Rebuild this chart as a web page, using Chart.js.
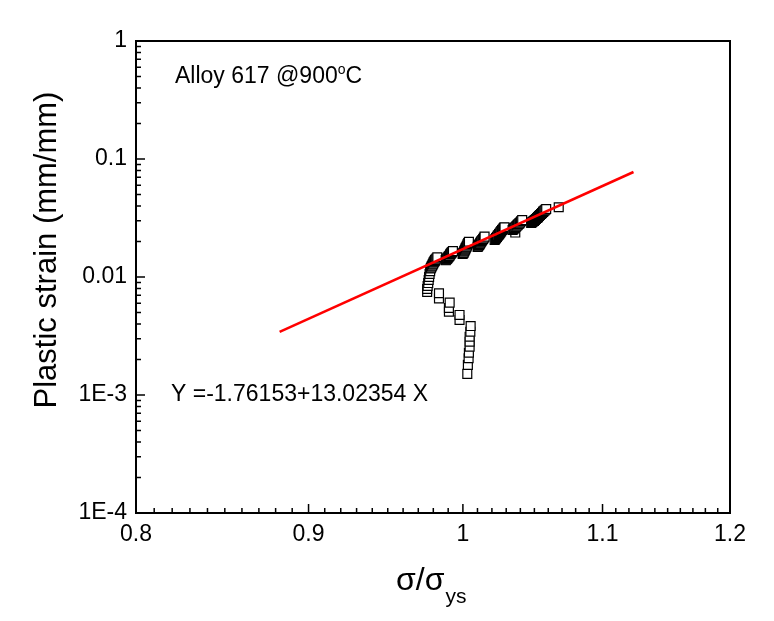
<!DOCTYPE html>
<html><head><meta charset="utf-8">
<script src="https://cdn.jsdelivr.net/npm/chart.js@4/dist/chart.umd.min.js"></script>
<style>html,body{margin:0;padding:0;background:#fff}#wrap{width:774px;height:621px;position:relative}</style>
</head><body><div id="wrap"><canvas id="c" width="774" height="621"></canvas></div>
<script>
const xTickValues=[0.8,0.9,1,1.1,1.2];
const xTickLabels=['0.8','0.9','1','1.1','1.2'];
const yTickValues=[1e-4,1e-3,0.01,0.1,1];
const yTickLabels=['1E-4','1E-3','0.01','0.1','1'];

// measured points: sigma/sigma_ys and plastic strain
const stressRatio=[
 1.0030,1.0034,1.0039,1.0041,1.0046,1.0046,1.0046,1.0051,1.0053,0.9977,0.9977,0.9905,0.9905,0.9910,0.9838,0.9838,
 0.9759,0.9759,0.9762,0.9766,0.9769,0.9772,0.9775,0.9779,0.9782,0.9785,0.9789,0.9792,0.9796,0.9799,0.9802,0.9806,0.9809,0.9812,0.9816,0.9822,0.9827,
 0.9883,0.9886,0.9890,0.9893,0.9896,0.9900,0.9903,0.9906,0.9910,0.9913,0.9916,0.9920,0.9923,0.9927,0.9932,
 0.9998,1.0001,1.0005,1.0008,1.0012,1.0015,1.0018,1.0021,1.0025,1.0028,1.0032,1.0036,1.0041,
 1.0101,1.0104,1.0108,1.0111,1.0115,1.0118,1.0121,1.0125,1.0128,1.0133,1.0139,1.0144,1.0149,
 1.0219,1.0224,1.0229,1.0235,1.0240,1.0245,1.0250,1.0255,1.0260,1.0265,1.0271,1.0276,1.0281,1.0285,1.0288,
 1.0364,1.0345,1.0350,1.0355,1.0360,1.0366,1.0371,1.0377,1.0382,1.0387,1.0392,1.0398,1.0405,1.0413,
 1.0477,1.0483,1.0490,1.0497,1.0504,1.0511,1.0519,1.0526,1.0533,1.0540,1.0548,1.0555,1.0562,1.0567,1.0573,1.0579,1.0585,
 1.0676];
const plasticStrain=[
 0.00151,0.00180,0.00205,0.00228,0.00257,0.00283,0.00312,0.00344,0.00384,0.00432,0.00477,0.00508,0.00546,0.00606,0.00659,0.00728,
 0.00746,0.00792,0.00839,0.00889,0.00944,0.0100,0.0106,0.0112,0.0118,0.0120,0.0123,0.0125,0.0128,0.0130,0.0133,0.0135,0.0137,0.0139,0.0141,0.0144,0.0147,
 0.0139,0.0140,0.0142,0.0143,0.0145,0.0147,0.0149,0.0150,0.0152,0.0155,0.0157,0.0159,0.0161,0.0163,0.0166,
 0.0157,0.0159,0.0161,0.0165,0.0168,0.0171,0.0175,0.0178,0.0181,0.0185,0.0190,0.0194,0.0199,
 0.0180,0.0182,0.0185,0.0187,0.0190,0.0193,0.0196,0.0199,0.0202,0.0206,0.0210,0.0215,0.0220,
 0.0206,0.0210,0.0214,0.0218,0.0223,0.0227,0.0231,0.0235,0.0240,0.0245,0.0250,0.0254,0.0258,0.0261,0.0264,
 0.0238,0.0250,0.0254,0.0258,0.0261,0.0265,0.0269,0.0273,0.0277,0.0281,0.0285,0.0290,0.0297,0.0304,
 0.0287,0.0291,0.0295,0.0299,0.0304,0.0310,0.0316,0.0322,0.0329,0.0335,0.0342,0.0349,0.0356,0.0361,0.0366,0.0371,0.0377,
 0.0390];

// fitted line end points
const fitX=[0.8824,1.1235];
const fitY=[0.00342,0.0776];

const titleText='Alloy 617 @900';
const titleDeg='o';
const titleUnit='C';
const equationText='Y =-1.76153+13.02354 X';
const yTitle='Plastic strain (mm/mm)';
const xTitleMain='\u03C3/\u03C3';
const xTitleSub='ys';

const FONT="'Liberation Sans', Arial, sans-serif";

const decor={id:'decor',afterDraw(ch){
  const ctx=ch.ctx,a=ch.chartArea,x=ch.scales.x,y=ch.scales.y;
  ctx.save();
  ctx.strokeStyle='#000';
  ctx.lineWidth=1.5;
  ctx.beginPath();
  for(let k=80;k<=120;k++){
    const px=x.getPixelForValue(k/100);
    const len=(k%10===0)?9:5;
    ctx.moveTo(px,a.bottom);ctx.lineTo(px,a.bottom-len);
  }
  for(let n=-4;n<=0;n++){
    for(let k=1;k<=9;k++){
      const v=k*Math.pow(10,n);
      if(v>1.0001)break;
      const py=y.getPixelForValue(v);
      const len=(k===1)?9:5;
      ctx.moveTo(a.left,py);ctx.lineTo(a.left+len,py);
    }
  }
  ctx.stroke();
  ctx.lineWidth=2;
  ctx.strokeRect(a.left,a.top,a.right-a.left,a.bottom-a.top);

  ctx.fillStyle='#000';
  ctx.textBaseline='alphabetic';
  ctx.textAlign='left';
  ctx.font='23px '+FONT;
  ctx.fillText(titleText,175,83);
  let w=ctx.measureText(titleText).width;
  ctx.font='14px '+FONT;
  ctx.fillText(titleDeg,175+w,74);
  let w2=ctx.measureText(titleDeg).width;
  ctx.font='23px '+FONT;
  ctx.fillText(titleUnit,175+w+w2,83);

  ctx.fillText(equationText,171,401);

  ctx.save();
  ctx.translate(56,250);
  ctx.rotate(-Math.PI/2);
  ctx.textAlign='center';
  ctx.font='31px '+FONT;
  ctx.fillText(yTitle,0,0);
  ctx.restore();

  ctx.font='32px '+FONT;
  ctx.fillText(xTitleMain,396,590);
  const mw=ctx.measureText(xTitleMain).width;
  ctx.font='21px '+FONT;
  ctx.fillText(xTitleSub,396+mw+1,603);
  ctx.restore();
}};

new Chart(document.getElementById('c'),{
  type:'scatter',
  data:{datasets:[
    {type:'line',label:'fit',data:fitX.map((v,i)=>({x:v,y:fitY[i]})),borderColor:'#ff0000',borderWidth:2.5,pointRadius:0,fill:false,tension:0},
    {label:'data',data:stressRatio.map((v,i)=>({x:v,y:plasticStrain[i]})),pointStyle:'rect',pointRadius:6.3,pointHoverRadius:6.3,backgroundColor:'#ffffff',borderColor:'#000000',borderWidth:1.2}
  ]},
  options:{
    responsive:false,animation:false,devicePixelRatio:1,
    layout:{padding:{top:41,right:44,left:0,bottom:0}},
    plugins:{legend:{display:false},tooltip:{enabled:false}},
    scales:{
      x:{type:'logarithmic',position:'bottom',min:0.8,max:1.2,
        afterFit:s=>{s.height=108;},
        afterBuildTicks:s=>{s.ticks=xTickValues.map(v=>({value:v}));},
        ticks:{autoSkip:false,maxRotation:0,color:'#000',padding:8,font:{family:FONT,size:23},
          callback:(v,i)=>xTickLabels[i]},
        grid:{display:false,drawTicks:false},border:{display:false}},
      y:{type:'logarithmic',position:'left',min:1e-4,max:1,
        afterFit:s=>{s.width=136;},
        afterBuildTicks:s=>{s.ticks=yTickValues.map(v=>({value:v}));},
        ticks:{autoSkip:false,color:'#000',padding:9,font:{family:FONT,size:23},
          callback:(v,i)=>yTickLabels[i]},
        grid:{display:false,drawTicks:false},border:{display:false}}
    }
  },
  plugins:[decor]
});
</script></body></html>
